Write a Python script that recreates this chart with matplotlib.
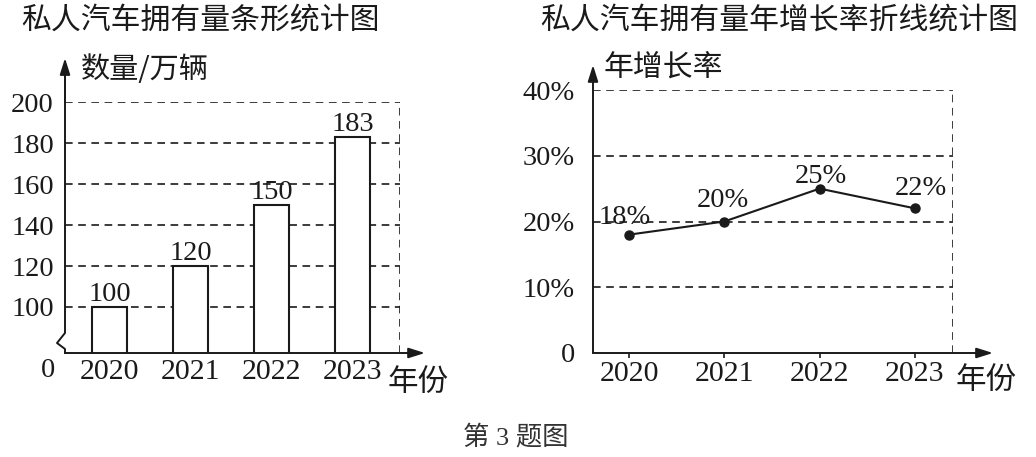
import matplotlib
matplotlib.use('Agg')
import matplotlib.pyplot as plt

plt.rcParams['font.family'] = ['Liberation Serif', 'Noto Sans CJK SC']
plt.rcParams['lines.scale_dashes'] = False

# data
years = ['2020', '2021', '2022', '2023']
counts = [100, 120, 150, 183]          # 万辆
count_ticks = [100, 120, 140, 160, 180, 200]
rates = [18, 20, 25, 22]               # %
rate_ticks = [0, 10, 20, 30, 40]

INK = '#1a1a1a'
CJK = ['Noto Sans CJK SC']
W, H = 1036, 457
DASH = (0, (5.5, 4))

fig = plt.figure(figsize=(W / 100, H / 100), dpi=100)
fig.patch.set_facecolor('white')


def px_axes(x0, y0, x1, y1):
    # axes rect from pixel box (top-left origin)
    return fig.add_axes([x0 / W, 1 - y1 / H, (x1 - x0) / W, (y1 - y0) / H])


def arrow(ax, p0, p1):
    ax.annotate('', xy=p1, xytext=p0, xycoords='axes fraction',
                textcoords='axes fraction', annotation_clip=False,
                arrowprops=dict(arrowstyle='-|>,head_length=0.7,head_width=0.22',
                                color=INK, lw=1.4, shrinkA=0, shrinkB=0,
                                mutation_scale=14))


# ---- left: bar chart ----
ax1 = px_axes(65, 102, 400, 353)
xl = (-0.549, 3.586)
ax1.set_xlim(*xl)
ax1.set_ylim(200 - 251 / 2.05, 200)
for s in ax1.spines.values():
    s.set_visible(False)
ax1.hlines(count_ticks, xl[0], xl[1], colors=INK, lw=1.2, linestyles=[DASH], zorder=1)
ax1.vlines(xl[1], 200 - 251 / 2.05, 200, colors=INK, lw=1.2, linestyles=[DASH], zorder=1)
bars = ax1.bar(range(len(years)), counts, width=0.432, color='white',
               edgecolor=INK, lw=1.5, zorder=2)
ax1.bar_label(bars, padding=0, fontsize=20.5, color=INK)
ax1.set_yticks(count_ticks, [str(v) for v in count_ticks])
ax1.set_xticks(range(len(years)), years)
ax1.tick_params(axis='y', length=0, pad=8, labelsize=20.5, labelcolor=INK)
ax1.tick_params(axis='x', length=0, pad=4, labelsize=21.5, labelcolor=INK)
# broken y axis
ax1.plot([0, 0, -0.0239, 0, 0], [1.175 - 0.02, 0.0797, 0.0398, 0.016, 0],
         transform=ax1.transAxes, color=INK, lw=1.4, clip_on=False)
arrow(ax1, (0, 1.0), (0, 1.175))
arrow(ax1, (0, 0), (1.0746, 0))
ax1.text(-0.05, -0.068, '0', transform=ax1.transAxes, ha='center', va='center',
         fontsize=20.5, color=INK)

# ---- right: line chart ----
ax2 = px_axes(593, 90, 953, 353)
xr = (-0.378, 3.40)
ax2.set_xlim(*xr)
ax2.set_ylim(0, 40)
for s in ax2.spines.values():
    s.set_visible(False)
ax2.hlines(rate_ticks[1:], xr[0], xr[1], colors=INK, lw=1.2, linestyles=[DASH], zorder=1)
ax2.vlines(xr[1], 0, 40, colors=INK, lw=1.2, linestyles=[DASH], zorder=1)
ax2.plot(range(len(years)), rates, '-o', color=INK, lw=1.5, ms=6.5, zorder=3)
label_offsets = [(-3, 12), (-1, 15), (1, 9), (4, 14)]  # points
for i, (v, off) in enumerate(zip(rates, label_offsets)):
    ax2.annotate(f'{v}%', (i, v), xytext=off, textcoords='offset points',
                 ha='center', va='center', fontsize=20.5, color=INK)
ax2.set_yticks(rate_ticks, ['0'] + [f'{v}%' for v in rate_ticks[1:]])
ax2.set_xticks(range(len(years)), years)
ax2.tick_params(axis='y', length=0, pad=13, labelsize=20.5, labelcolor=INK)
ax2.tick_params(axis='x', length=3.6, width=1.2, color=INK, direction='out',
                pad=2, labelsize=21.5, labelcolor=INK)
arrow(ax2, (0, 0), (0, 1.095))
arrow(ax2, (0, 0), (1.111, 0))

# ---- texts ----
def ftext(x, y, s, size, ha='left', family=CJK, color=INK):
    fig.text(x / W, 1 - y / H, s, ha=ha, va='center', fontsize=size,
             family=family, color=color)

ftext(21, 20, '私人汽车拥有量条形统计图', 21.5)
ftext(540, 20, '私人汽车拥有量年增长率折线统计图', 21.5)
ftext(81, 70, '数量/万辆', 21)
ftext(604, 67, '年增长率', 21.5)
ftext(388, 382, '年份', 22)
ftext(956, 380, '年份', 22)
ftext(516, 437, '第 3 题图', 19, ha='center',
      family=['Liberation Serif', 'Noto Sans CJK SC'], color='#333333')

fig.savefig('out.png', dpi=100, facecolor='white')
